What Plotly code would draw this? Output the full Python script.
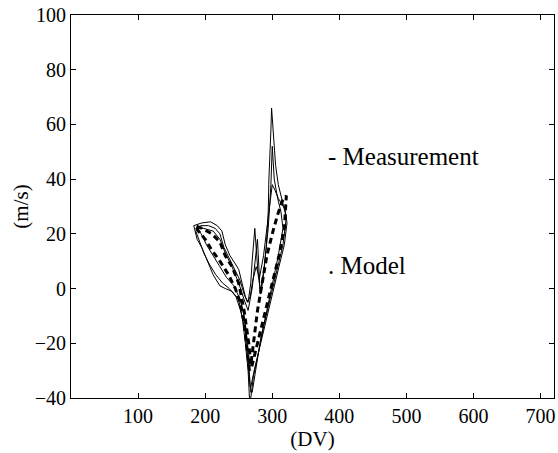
import plotly.graph_objects as go

# Measurement traces (phase portrait, several cycles)
meas_x1 = [266, 264, 260, 256, 250, 240, 230, 222, 212, 203, 195, 188, 183, 195, 208, 218, 225, 230, 237, 245,
           250, 255, 260, 264, 268, 270, 272, 274, 276, 279, 283, 287, 291, 294, 295, 297, 298, 299, 302,
           305, 309, 314, 318, 321, 316, 306, 296, 287, 279, 272, 268]
meas_y1 = [-40, -30, -20, -12, -4, -1, 0, 1, 5, 10, 15, 18, 23, 24, 24.4, 23, 21, 16, 12, 9,
           7, 2, -3, -5, 2, 10, 18, 22, 15, 5, -2, 5, 15, 28, 40, 50, 58, 66, 55,
           45, 38, 33, 30, 26, 16, 6, -4, -14, -24, -32, -40]
meas_x2 = [268, 265, 262, 258, 252, 243, 232, 222, 212, 202, 194, 189, 198, 212, 222, 230, 240, 250, 258, 264,
           270, 275, 278, 280, 282, 288, 294, 298, 300, 303, 308, 313, 316, 309, 301, 292, 283, 276, 270]
meas_y2 = [-38, -28, -18, -10, -4, 1, 4, 8, 12, 16, 20, 22, 22, 21, 18, 13, 8, 2, -4, -8,
           0, 10, 18, 8, -2, 8, 22, 38, 52, 40, 33, 28, 22, 12, 2, -8, -18, -28, -38]
meas_x3 = [267, 264, 260, 254, 246, 236, 226, 216, 206, 198, 192, 186, 193, 205, 215, 222, 228, 236, 244, 252,
           258, 263, 267, 271, 276, 281, 287, 292, 296, 300, 304, 309, 314, 319, 322, 318, 310, 300, 290, 280,
           273, 268]
meas_y3 = [-36, -26, -16, -9, -3, 0, 2, 5, 9, 13, 17, 21, 23, 23, 22, 20, 15, 11, 7, 3,
           -2, -5, -3, 3, 8, 4, 12, 22, 32, 38, 36, 33, 31, 29, 24, 16, 8, -2, -12, -22,
           -30, -36]

# Model trace
model_x = [266, 262, 258, 252, 245, 235, 222, 210, 200, 190, 185, 195, 210, 222, 230, 240, 250, 258, 265, 268,
           272, 278, 285, 292, 300, 308, 315, 321, 318, 310, 298, 286, 275, 268]
model_y = [-30, -20, -12, -5, 0, 5, 10, 14, 18, 21, 23, 22, 20, 17, 12, 8, 2, -8, -20, -28,
           -20, -8, 2, 12, 20, 27, 32, 34, 22, 12, 0, -12, -22, -30]

x_ticks = [100, 200, 300, 400, 500, 600, 700]
y_ticks = [-40, -20, 0, 20, 40, 60, 80, 100]

fig = go.Figure()
for mx, my in [(meas_x1, meas_y1), (meas_x2, meas_y2), (meas_x3, meas_y3)]:
    fig.add_trace(go.Scatter(x=mx, y=my, mode="lines", line=dict(color="black", width=1),
                             showlegend=False))
fig.add_trace(go.Scatter(x=model_x, y=model_y, mode="lines",
                         line=dict(color="black", width=3, dash="6px,4px"), showlegend=False))

font = "Liberation Serif, Times New Roman, serif"
fig.add_annotation(x=380, y=48.4, text="- Measurement", showarrow=False, xanchor="left",
                   yanchor="middle", font=dict(family=font, size=25, color="black"))
fig.add_annotation(x=380, y=8.5, text=". Model", showarrow=False, xanchor="left",
                   yanchor="middle", font=dict(family=font, size=25, color="black"))

axis_common = dict(showgrid=False, zeroline=False, showline=True, linecolor="black", linewidth=1,
                   mirror="ticks", ticks="inside", ticklen=5, tickcolor="black",
                   tickfont=dict(family=font, size=20, color="black"))
fig.update_xaxes(range=[0, 720], tickvals=x_ticks, ticklabeloverflow="allow",
                 title=dict(text="(DV)", standoff=0, font=dict(family=font, size=21, color="black")),
                 **axis_common)
fig.update_yaxes(range=[-40, 100], tickvals=y_ticks, ticklabeloverflow="allow",
                 title=dict(text="(m/s)", standoff=0, font=dict(family=font, size=21, color="black")),
                 **axis_common)

fig.update_layout(width=558, height=453, margin=dict(l=71, r=2, t=15, b=55),
                  plot_bgcolor="white", paper_bgcolor="white")
fig.write_html("out.html")
